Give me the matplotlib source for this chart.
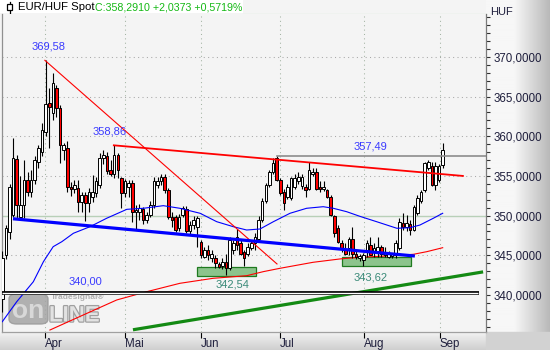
import numpy as np
import matplotlib
matplotlib.use("Agg")
import matplotlib.pyplot as plt
from matplotlib.patches import Rectangle, FancyBboxPatch
from matplotlib.ticker import MultipleLocator
import matplotlib.patheffects as pe

plt.rcParams['font.family'] = ['Liberation Sans', 'DejaVu Sans']

# ---------------- data ----------------
opens = [339.5, 345.0, 347.9, 350.1, 357.1, 349.8, 351.3, 354.5, 353.0, 354.5,
         356.8, 358.0, 360.5, 364.2, 362.9, 366.1, 363.6, 358.3, 358.5, 353.6,
         353.4, 353.5, 351.7, 352.6, 351.6, 352.4, 352.8, 353.9, 357.3, 357.5,
         355.8, 355.3, 357.6, 354.7, 352.8, 353.6, 354.1, 350.5, 350.5, 350.8,
         349.4, 350.1, 351.3, 353.9, 354.3, 354.9, 353.2, 349.8, 349.8, 348.4,
         350.1, 350.8, 348.0, 348.8, 348.6, 346.7, 344.8, 345.7, 344.6, 344.7,
         343.9, 343.6, 344.2, 343.4, 345.7, 347.3, 346.5, 345.4, 345.2, 345.9,
         346.5, 347.1, 349.4, 351.8, 353.9, 355.5, 357.2, 354.5, 353.0, 352.4,
         352.2, 353.6, 354.3, 353.7, 353.6, 353.4, 355.3, 355.5, 353.6, 353.3,
         353.2, 352.4, 349.9, 348.4, 346.5, 345.7, 345.9, 347.1, 345.2, 344.6,
         344.4, 345.7, 346.3, 345.5, 345.5, 346.1, 345.0, 344.8, 344.9, 345.0,
         345.9, 349.1, 348.6, 349.0, 348.2, 350.3, 351.8, 353.2, 356.0, 356.2,
         353.9, 354.5, 356.4]
highs = [345.5, 348.8, 354.0, 359.8, 357.6, 355.0, 357.0, 355.5, 355.8, 357.5,
         358.9, 361.7, 369.58, 366.1, 368.0, 366.5, 364.0, 359.2, 359.4, 354.2,
         354.5, 354.5, 353.0, 353.0, 353.5, 355.1, 354.9, 357.9, 358.3, 358.0,
         357.0, 358.86, 357.9, 354.9, 354.6, 354.5, 354.5, 351.3, 351.5, 351.1,
         350.4, 351.8, 354.9, 354.9, 355.3, 355.2, 353.5, 350.5, 350.1, 350.2,
         351.2, 351.2, 349.3, 349.9, 350.0, 346.9, 346.1, 346.3, 345.6, 345.0,
         344.2, 344.6, 345.2, 347.3, 346.9, 348.3, 346.9, 345.6, 346.5, 346.8,
         347.8, 350.0, 352.2, 354.1, 355.8, 357.2, 357.49, 354.8, 353.3, 354.0,
         354.9, 355.3, 355.5, 355.2, 354.0, 356.8, 356.0, 356.0, 354.3, 354.3,
         353.4, 352.6, 350.1, 348.8, 346.9, 346.5, 347.3, 348.6, 345.5, 345.2,
         345.3, 346.9, 347.3, 346.6, 347.3, 346.3, 346.0, 345.5, 345.3, 346.9,
         349.7, 350.3, 350.1, 349.4, 351.3, 352.6, 353.2, 356.8, 357.0, 356.8,
         356.8, 356.5, 359.1]
lows = [337.8, 344.5, 347.0, 349.8, 349.7, 349.4, 349.7, 352.5, 352.3, 354.0,
        356.0, 357.5, 360.0, 358.5, 362.0, 362.4, 356.6, 357.0, 353.0, 352.5,
        352.8, 350.4, 350.4, 349.3, 350.5, 351.7, 352.4, 353.5, 356.5, 355.3,
        355.0, 354.8, 354.7, 350.9, 352.4, 352.4, 349.2, 348.2, 349.5, 349.0,
        349.1, 349.8, 351.0, 353.5, 353.9, 352.9, 349.6, 348.5, 347.9, 348.0,
        349.8, 347.8, 347.6, 348.3, 346.1, 344.6, 344.6, 344.4, 344.2, 343.4,
        343.4, 343.3, 342.54, 343.2, 345.2, 345.7, 345.0, 343.6, 344.9, 345.6,
        345.7, 346.9, 349.2, 351.6, 353.6, 355.2, 354.3, 352.6, 350.7, 352.1,
        352.0, 353.3, 354.0, 353.4, 352.4, 353.2, 355.0, 353.2, 353.0, 353.1,
        352.2, 349.9, 347.3, 346.5, 345.4, 345.0, 345.0, 344.6, 344.5, 344.3,
        343.62, 344.8, 345.0, 344.8, 344.8, 344.8, 344.8, 344.6, 344.7, 344.7,
        345.6, 348.2, 348.0, 347.6, 348.0, 350.1, 351.6, 353.0, 355.8, 353.7,
        353.2, 354.2, 356.0]
closes = [344.6, 348.4, 353.6, 357.3, 351.3, 351.3, 354.5, 353.0, 354.5, 357.0,
          358.5, 360.8, 364.1, 363.7, 366.7, 363.6, 358.9, 358.9, 353.6, 353.4,
          353.8, 351.7, 352.6, 351.6, 353.0, 353.0, 354.3, 357.3, 357.6, 355.6,
          355.3, 357.6, 355.7, 352.8, 354.3, 354.1, 350.5, 350.7, 351.0, 349.4,
          350.1, 351.3, 354.3, 354.3, 354.9, 353.2, 349.8, 349.5, 348.2, 349.8,
          350.9, 348.0, 348.8, 349.4, 349.7, 345.0, 345.7, 345.0, 345.2, 344.0,
          343.5, 344.2, 343.4, 346.9, 346.5, 346.3, 345.2, 344.6, 346.1, 346.5,
          347.3, 349.4, 351.8, 353.9, 355.5, 356.6, 354.5, 352.8, 351.6, 353.6,
          354.7, 354.7, 354.9, 354.9, 353.2, 355.8, 355.5, 353.4, 353.4, 353.6,
          352.4, 350.1, 347.8, 346.7, 345.9, 345.2, 347.1, 345.2, 344.8, 344.9,
          345.0, 346.5, 345.0, 345.9, 346.0, 345.2, 345.4, 345.2, 345.2, 346.5,
          349.2, 348.6, 349.1, 348.2, 351.1, 352.2, 353.0, 356.6, 356.8, 353.9,
          356.2, 356.25, 358.291]

month_labels = ['Apr', 'Mai', 'Jun', 'Jul', 'Aug', 'Sep']
month_pos = [11.8, 34.0, 55.0, 76.9, 100.2, 121.2]

ma_blue_day = [0, 4.0, 8.6, 11.4, 14.1, 16.5, 19.7, 24.3, 28.9, 34.5, 39.1, 44.6,
               49.2, 54.8, 59.4, 64.0, 67.7, 71.4, 75.1, 79.7, 84.3, 88.9, 91.7,
               95.4, 99.1, 103.7, 109.3, 112.9, 115.7, 119.4, 122.0]
ma_blue = [336.62, 339.14, 341.66, 344.19, 346.08, 346.71, 347.77, 348.60, 349.66,
           350.79, 350.92, 351.25, 350.92, 350.29, 349.23, 348.60, 348.18, 348.31,
           349.23, 350.29, 350.92, 351.12, 350.92, 350.49, 349.90, 349.23, 348.40,
           348.47, 348.81, 349.66, 350.29]
ma_red_day = [13.2, 22.4, 31.7, 40.0, 49.2, 58.4, 67.7, 72.3, 76.9, 86.1, 93.5,
              99.1, 108.3, 113.9, 117.6, 122.0]
ma_red = [335.57, 337.46, 339.36, 340.40, 341.46, 342.09, 342.42, 342.93, 343.35,
          344.11, 344.53, 344.75, 344.94, 345.12, 345.45, 345.95]

trend_down_day, trend_down_val = [11.8, 76.1], [369.58, 343.9]
resist_day, resist_val = [30.9, 127.6], [358.86, 355.0]
support_blue_day, support_blue_val = [2.96, 114.3], [349.6, 344.9]
support_green_day, support_green_val = [36.2, 133.2], [335.6, 342.9]
hline_357_day, hline_357_val = 76.0, 357.49
hline_340_day, hline_340_val = 132.05, 340.3
zone1_day, zone1_val = [54.0, 70.3], [342.4, 343.5]
zone2_day, zone2_val = [94.2, 113.1], [343.6, 344.8]

blue_labels = ['369,58', '358,86', '357,49', '340,00']
blue_label_day = [12.9, 29.8, 102.1, 22.9]
blue_label_val = [371.26, 360.6, 358.65, 341.69]
green_labels = ['342,54', '343,62']
green_label_day = [63.9, 101.9]
green_label_val = [341.31, 342.2]

y_ticks = [340, 345, 350, 355, 360, 365, 370]

# ---------------- figure ----------------
W, H = 550, 350
fig = plt.figure(figsize=(W / 100, H / 100), dpi=100)

bg = fig.add_axes([0, 0, 1, 1], zorder=-5)
bg.axis('off')
bg.add_patch(Rectangle((0, 0), W, H, color='#f4f4f4', zorder=0))
# right panel gradient
cols = np.linspace(0, 1, 128)
shade = np.where(cols < 0.45, 0.965, 0.965 - (cols - 0.45) / 0.55 * 0.24)
bg.imshow(np.tile(shade, (8, 1)), extent=(486, 550, 332, 0), cmap='gray',
          vmin=0, vmax=1, aspect='auto', interpolation='bilinear', zorder=1)
# bottom strip gradient
rows = np.linspace(0, 1, 32)
bshade = 0.95 - rows * 0.14
bg.imshow(np.tile(bshade[:, None], (1, 8)), extent=(0, 486, 350, 332), cmap='gray',
          vmin=0, vmax=1, aspect='auto', interpolation='bilinear', zorder=1)
bg.add_patch(Rectangle((486, 332), 64, 18, color='#d2d2d2', zorder=2))
# header box
bg.add_patch(Rectangle((0, 0), 243, 13, facecolor='white', edgecolor='none', zorder=3))
bg.plot([243, 486], [13.5, 13.5], color='#a8d4a8', lw=0.8, zorder=3)
bg.plot([9.5, 9.5], [1.5, 12.5], color='black', lw=0.9, zorder=4)
bg.add_patch(Rectangle((7, 4), 5, 6, facecolor='white', edgecolor='black', lw=0.9, zorder=5))
bg.text(18, 7.2, 'EUR/HUF Spot', fontsize=8.2, color='black', va='center', ha='left', zorder=6)
bg.text(95, 7.2, 'C:358,2910 +2,0373 +0,5719%', fontsize=7.7, color='#14b814',
        va='center', ha='left', zorder=6)
bg.text(490, 12, 'HUF', fontsize=8, color='#1e1e3c', va='center', ha='left', zorder=6)
bg.set_xlim(0, W)
bg.set_ylim(H, 0)

ax = fig.add_axes([2 / W, 18 / H, 484 / W, 318 / H])
ax.set_facecolor('#f4f4f4')
ax.set_xlim(-0.08, 134.0)
ax.set_ylim(335.32, 375.42)

# grid
for v in [345, 355, 360, 365, 370]:
    ax.axhline(v, color='#a8a8a8', lw=0.75, ls=(0, (1, 3.2)), zorder=1)
ax.axhline(350, color='#b8d0b8', lw=1.0, zorder=1)
for m in month_pos:
    ax.axvline(m, color='#a4b4a4', lw=0.75, ls=(0, (1, 3.2)), zorder=1)

# watermark
def fpt(px, py):
    return px / W, 1 - py / H

wm = dict(transform=fig.transFigure, zorder=1.5)
ax.add_patch(FancyBboxPatch(fpt(9, 324), 39 / W, 30 / H,
                            boxstyle='round,pad=0.0,rounding_size=0.014',
                            facecolor='#a4a4a4', edgecolor='#9a9a9a', alpha=0.85, **wm))
ax.text(*fpt(28.5, 311), 'on', fontsize=19, fontweight='bold', color='#d8d8d8',
        ha='center', va='center', **wm)
ax.text(*fpt(49, 316), 'LINE', fontsize=16, fontweight='bold', color='#e2e2e2',
        ha='left', va='center',
        path_effects=[pe.withStroke(linewidth=1.8, foreground='#a0a0a0')], **wm)
ax.text(*fpt(51, 297.5), 'Tradesignal®', fontsize=6, fontweight='bold', color='#b0b0b0',
        ha='left', va='center', **wm)

# zones
for d, v in [(zone1_day, zone1_val), (zone2_day, zone2_val)]:
    ax.add_patch(Rectangle((d[0], v[0]), d[1] - d[0], v[1] - v[0],
                           facecolor='#8cc48c', edgecolor='#1f7a1f', lw=0.9, zorder=2))

# MAs
ax.plot(ma_red_day, ma_red, color='#ff0000', lw=0.8, zorder=2.5)

# candles
o = np.array(opens); h = np.array(highs); l = np.array(lows); c = np.array(closes)
idx = np.arange(len(c))
ax.vlines(idx, l, h, color='black', lw=0.8, zorder=3)
lo = np.minimum(o, c)
hh = np.maximum(np.abs(c - o), 0.08)
colors = ['white' if cc >= oo else '#ff0000' for oo, cc in zip(o, c)]
ax.bar(idx, hh, bottom=lo, width=0.72, color=colors, edgecolor='black',
       linewidth=0.7, zorder=4)

ax.plot(ma_blue_day, ma_blue, color='#0000ff', lw=0.8, zorder=5)

# trend lines
ax.plot(trend_down_day, trend_down_val, color='#ff0000', lw=0.8, zorder=6)
ax.plot(resist_day, resist_val, color='#ff0000', lw=1.3, zorder=6)
ax.plot(support_blue_day, support_blue_val, color='#0000ff', lw=2.3, zorder=6,
        solid_capstyle='butt')
ax.plot(support_green_day, support_green_val, color='#138a13', lw=2.3, zorder=6,
        solid_capstyle='butt')
ax.plot([hline_357_day, 134.0], [hline_357_val] * 2, color='#8c8c8c', lw=1.2, zorder=6)
ax.plot([0, hline_340_day], [hline_340_val] * 2, color='black', lw=2.7, zorder=6,
        solid_capstyle='butt')
ax.plot([0, hline_340_day - 0.25], [hline_340_val] * 2, color='white', lw=1.0, zorder=6.1,
        solid_capstyle='butt')

for t, d, v in zip(blue_labels, blue_label_day, blue_label_val):
    ax.text(d, v, t, fontsize=8, color='#3a3aff', ha='center', va='center', zorder=7)
for t, d, v in zip(green_labels, green_label_day, green_label_val):
    ax.text(d, v, t, fontsize=8, color='#3a8a78', ha='center', va='center', zorder=7)

# axes styling
ax.spines['top'].set_visible(False)
ax.spines['left'].set_color('#909090')
ax.spines['right'].set_color('#7a7a7a')
ax.spines['bottom'].set_color('#a0a0a0')
for s in ax.spines.values():
    s.set_linewidth(0.9)

ax.yaxis.tick_right()
ax.set_yticks(y_ticks)
ax.set_yticklabels([f"{v:.4f}".replace('.', ',') for v in y_ticks])
ax.yaxis.set_minor_locator(MultipleLocator(1))
ax.tick_params(axis='y', which='both', direction='out', length=2.6, width=0.8,
               color='#303030', labelsize=8.3, labelcolor='#1e1e3c', pad=3)
ax.set_xticks(month_pos)
ax.set_xticklabels(month_labels)
for lbl in ax.get_xticklabels():
    lbl.set_ha('left')
ax.tick_params(axis='x', which='both', direction='out', length=4, width=0.8,
               color='black', labelsize=8.3, labelcolor='#1e1e3c', pad=0.5)

fig.savefig('out.png', dpi=100)
